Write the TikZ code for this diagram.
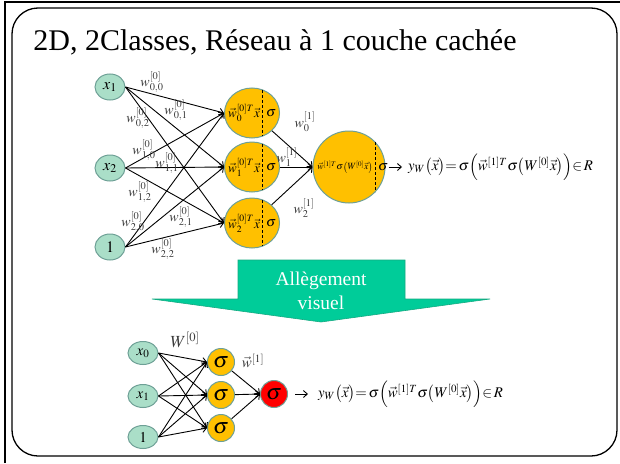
\documentclass[tikz,border=0pt]{standalone}
\usepackage{mathptmx}
\usepackage{fontspec}
\setmainfont{Liberation Serif}
\usetikzlibrary{arrows.meta,shapes.geometric}
\definecolor{mint}{RGB}{170,222,200}
\definecolor{nodeedge}{RGB}{110,160,150}
\definecolor{hidorange}{RGB}{255,192,0}
\definecolor{arrgreen}{RGB}{0,204,153}
\definecolor{arrgreenedge}{RGB}{20,170,130}
\definecolor{wgray}{RGB}{60,60,60}
\newcommand\setfs[1]{\fontsize{#1}{#1}\selectfont}
\newcommand\yformula{$y_W\bigl(\vec x\bigr){=}\,\sigma\Bigl(\vec w^{[1]T}\sigma\bigl(W^{[0]}\vec x\bigr)\Bigr){\in}\,R$}
\tikzset{
 inp/.style={ellipse, draw=nodeedge, fill=mint, line width=1pt, inner sep=0pt, minimum width=30pt, minimum height=26pt, font=\setfs{16}},
 hid/.style={ellipse, draw=nodeedge, fill=hidorange, line width=1pt, inner sep=0pt, minimum width=55pt, minimum height=50pt},
 outn/.style={circle, draw=nodeedge, fill=hidorange, line width=1pt, inner sep=0pt, minimum size=72pt},
 sinp/.style={inp, minimum width=30pt, minimum height=23pt, font=\setfs{15}},
 shid/.style={circle, draw=nodeedge, fill=hidorange, line width=1pt, inner sep=0pt, minimum size=27pt, font=\setfs{22}},
 sout/.style={shid, fill=red},
 wlab/.style={text=wgray, inner sep=0pt, font=\setfs{14}},
 intext/.style={inner sep=0pt, font=\setfs{13}},
 arr/.style={-{Straight Barb[length=4pt,width=7pt]}, line width=0.9pt},
 sepline/.style={line width=1pt, dash pattern=on 3pt off 2pt},
 formula/.style={inner sep=0pt, anchor=west, font=\setfs{14.8}},
 arrtext/.style={text=white, anchor=base, inner sep=0pt, font=\setfs{19.5}},
}
\begin{document}
\begin{tikzpicture}[x=1pt,y=-1pt]
\useasboundingbox (0,0) rectangle (620,463);
\fill[white] (0,0) rectangle (620,463);
% frame
\draw[line width=2pt] (5,463) -- (5,2) -- (620,2);
\draw[line width=1.3pt, rounded corners=26pt] (12,8) rectangle (617,456);
% title
\node[font=\setfs{30}, anchor=base, inner sep=0pt] (title) at (275,50) {2D, 2Classes, Réseau à 1 couche cachée};

% ---------- top network ----------
\node[inp] (a1) at (110,87) {$x_1$};
\node[inp] (a2) at (110,168) {$x_2$};
\node[inp] (a3) at (110,247) {$1$};
\node[hid] (h0) at (252,113) {};
\node[hid] (h1) at (252,167) {};
\node[hid] (h2) at (252,223) {};
\node[outn] (out) at (349,167) {};

\foreach \i in {0,1,2}{
  \node[intext] (h\i t) at ([xshift=-8pt]h\i.center) {$\vec w_\i^{[0]T}\vec x$};
  \node[intext, font=\setfs{14}] (h\i s) at ([xshift=19pt]h\i.center) {$\sigma$};
  \draw[sepline] ([shift={(10,-23)}]h\i.center) -- ([shift={(10,23)}]h\i.center);
}
\node[inner sep=0pt, font=\setfs{9.5}] (outt) at ([xshift=-4pt]out.center) {$\vec w^{[1]T}\sigma\bigl(W^{[0]}\vec x\bigr)$};
\node[inner sep=0pt, font=\setfs{14}] (outs) at ([xshift=34pt]out.center) {$\sigma$};
\draw[sepline] ([shift={(26,-25)}]out.center) -- ([shift={(26,25)}]out.center);

\foreach \a in {a1,a2,a3}{
  \foreach \h in {h0,h1,h2}{
    \draw[arr] (\a.east) -- (\h.west);
  }
}
\foreach \h in {h0,h1,h2}{
  \draw[arr] (\h) -- (out.west);
}

\node[wlab] (w00) at (152,82) {$w_{0,0}^{[0]}$};
\node[wlab] (w01) at (176,110) {$w_{0,1}^{[0]}$};
\node[wlab] (w02) at (138,118) {$w_{0,2}^{[0]}$};
\node[wlab] (w10) at (144,150) {$w_{1,0}^{[0]}$};
\node[wlab] (w11) at (167,163) {$w_{1,1}^{[0]}$};
\node[wlab] (w12) at (140,192) {$w_{1,2}^{[0]}$};
\node[wlab] (w20) at (133,222) {$w_{2,0}^{[0]}$};
\node[wlab] (w21) at (181,217) {$w_{2,1}^{[0]}$};
\node[wlab] (w22) at (163,249) {$w_{2,2}^{[0]}$};
\node[wlab] (v0) at (305,122) {$w_{0}^{[1]}$};
\node[wlab] (v1) at (287,157) {$w_{1}^{[1]}$};
\node[wlab] (v2) at (304,208) {$w_{2}^{[1]}$};

\node[formula] (f1) at (408,167) {\yformula};
\draw[arr] ([xshift=3pt]out.east) -- ([xshift=-6pt]f1.west);

% ---------- down arrow ----------
\draw[fill=arrgreen, draw=arrgreenedge, line width=0.6pt]
  (238,260) -- (405,260) -- (405,299) -- (490,299) -- (321,322) -- (152,299) -- (238,299) -- cycle;
\node[arrtext] (t1) at (321,285) {Allègement};
\node[arrtext] (t2) at (321,309) {visuel};

% ---------- bottom network ----------
\node[sinp] (b0) at (143,353) {$x_0$};
\node[sinp] (b1) at (143,396) {$x_1$};
\node[sinp] (b2) at (143,437) {$1$};
\node[shid] (s0) at (221,362) {$\sigma$};
\node[shid] (s1) at (221,395) {$\sigma$};
\node[shid] (s2) at (221,428) {$\sigma$};
\node[sout] (r) at (274,394) {$\sigma$};
\foreach \a in {b0,b1,b2}{
  \foreach \h in {s0,s1,s2}{
    \draw[arr] (\a.east) -- (\h.west);
  }
}
\foreach \h in {s0,s1,s2}{
  \draw[arr] (\h) -- (r.west);
}
\node[wlab, font=\setfs{17}] (W0) at (185,340) {$W^{[0]}$};
\node[wlab, font=\setfs{15}] (wv1) at (253,361) {$\vec w^{[1]}$};
\node[formula] (f2) at (318,394) {\yformula};
\draw[arr] ([xshift=7pt]r.east) -- ([xshift=-10pt]f2.west);
\end{tikzpicture}
\end{document}
